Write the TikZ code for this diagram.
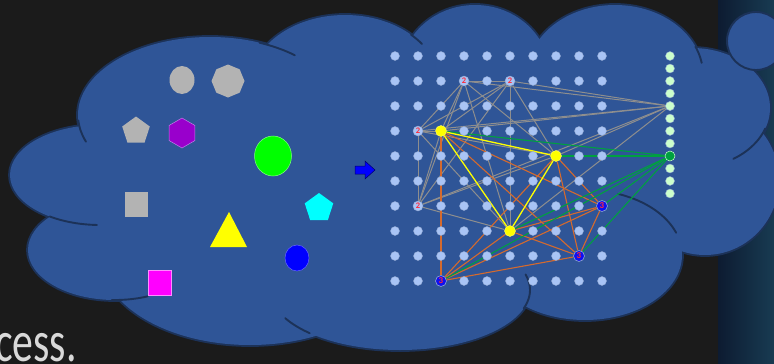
\documentclass[tikz,border=0pt]{standalone}
\usepackage{fontspec}
\setmainfont{Carlito}
\usetikzlibrary{shapes.geometric}
\definecolor{bgdark}{HTML}{1B1B1B}
\definecolor{cloudfill}{HTML}{2F5597}
\definecolor{cloudline}{HTML}{1C3258}
\definecolor{dotblue}{HTML}{A9C4F5}
\definecolor{dotrim}{HTML}{8FA6D0}
\definecolor{dotgreen}{HTML}{CCFFCC}
\definecolor{edgegray}{HTML}{8E8E8E}
\definecolor{edgeorange}{HTML}{D46A2E}
\definecolor{edgegreen}{HTML}{00A040}
\definecolor{labred}{HTML}{FF2A3A}
\definecolor{shapegray}{HTML}{B3B3B3}
\definecolor{sidedark}{HTML}{0D1B31}
\definecolor{sideteal}{HTML}{183B52}
\definecolor{textgray}{HTML}{D9D9D9}
\definecolor{nodeblue}{HTML}{1010F0}
\definecolor{arrowblue}{HTML}{0000FF}
\definecolor{pyellow}{HTML}{FFFF00}
\definecolor{pgreen}{HTML}{00FF00}
\definecolor{pcyan}{HTML}{00FFFF}
\definecolor{pmagenta}{HTML}{FF00FF}
\definecolor{ppurple}{HTML}{9900CC}
\definecolor{ppurplerim}{HTML}{C080E8}
\pgfdeclarelayer{bg}\pgfdeclarelayer{edges}
\pgfsetlayers{bg,edges,main}
\begin{document}
\begin{tikzpicture}[x=1pt,y=-1pt,
  cloudedge/.style={draw=cloudline,line width=3.8pt},
  crease/.style={draw=cloudline,line width=1.9pt,line cap=round},
  gdot/.style={circle,fill=dotblue,draw=dotrim,line width=0.4pt,minimum size=9pt,inner sep=0pt},
  gdotg/.style={circle,fill=dotgreen,draw=dotrim,line width=0.4pt,minimum size=9pt,inner sep=0pt},
  twonode/.style={circle,fill=dotblue,draw=dotrim,line width=0.4pt,minimum size=10pt,inner sep=0pt,text=labred,font=\fontsize{8.5}{8.5}\selectfont\bfseries},
  ynode/.style={circle,fill=pyellow,draw=pyellow!60!white,line width=0.4pt,minimum size=11pt,inner sep=0pt},
  pnode/.style={circle,fill=nodeblue,draw=dotrim,line width=0.6pt,minimum size=11pt,inner sep=0pt,text=labred,font=\fontsize{9}{9}\selectfont\bfseries},
  gnode/.style={circle,fill=edgegreen,draw=dotgreen,line width=0.5pt,minimum size=10pt,inner sep=0pt},
  eg/.style={draw=edgegray,line width=1pt},
  eo/.style={draw=edgeorange,line width=1.1pt},
  egr/.style={draw=edgegreen,line width=1.1pt},
  ey/.style={draw=pyellow,line width=1.3pt},
  shp/.style={inner sep=0pt}
]
\useasboundingbox (0,0) rectangle (774,364);
\clip (0,0) rectangle (774,364);
\begin{pgfonlayer}{bg}
\fill[bgdark] (0,0) rectangle (774,364);
\shade[left color=sidedark,right color=sideteal] (718,0) rectangle (774,364);
% cloud outline (outer halves survive the fill)
\foreach \cx/\cy/\rx/\ry in {100/175/90/50,115/250/87/50,210/115/132/78,345/85/95/70,475/75/75/70,615/75/88/70,692/108/78/60,705/180/74/75,585/255/97/65,400/290/130/60,250/255/150/90}
  \path[cloudedge] (\cx,\cy) ellipse [x radius=\rx,y radius=\ry];
\fill[cloudfill] (100,175) -- (210,115) -- (345,85) -- (475,75) -- (615,75) -- (692,108) -- (705,180) -- (585,255) -- (400,290) -- (250,255) -- (115,250) -- cycle;
\foreach \cx/\cy/\rx/\ry in {100/175/90/50,115/250/87/50,210/115/132/78,345/85/95/70,475/75/75/70,615/75/88/70,692/108/78/60,705/180/74/75,585/255/97/65,400/290/130/60,250/255/150/90}
  \fill[cloudfill] (\cx,\cy) ellipse [x radius=\rx,y radius=\ry];
% creases
\draw[crease] plot[domain=160:176,samples=12,variable=\t] ({210+132*cos(\t)},{115+78*sin(\t)});
\draw[crease] plot[domain=92:124,samples=16,variable=\t] ({100+90*cos(\t)},{175+50*sin(\t)});
\draw[crease] plot[domain=68:92,samples=12,variable=\t] ({115+87*cos(\t)},{250+50*sin(\t)});
\draw[crease] plot[domain=-68:-50,samples=12,variable=\t] ({210+132*cos(\t)},{115+78*sin(\t)});
\draw[crease] plot[domain=134:152,samples=12,variable=\t] ({400+130*cos(\t)},{290+60*sin(\t)});
\draw[crease] plot[domain=-15:18,samples=12,variable=\t] ({400+130*cos(\t)},{290+60*sin(\t)});
\draw[crease] plot[domain=-46:-36,samples=8,variable=\t] ({345+95*cos(\t)},{85+70*sin(\t)});
\draw[crease] plot[domain=-24:-10,samples=8,variable=\t] ({615+88*cos(\t)},{75+70*sin(\t)});
\draw[crease] plot[domain=20:58,samples=14,variable=\t] ({692+78*cos(\t)},{108+60*sin(\t)});
\draw[crease] plot[domain=-70:-20,samples=20,variable=\t] ({585+97*cos(\t)},{255+65*sin(\t)});
% small thought bubble
\draw[fill=cloudfill,draw=cloudline,line width=1.9pt] (756,41) circle [radius=29];
\end{pgfonlayer}

% left shapes
\node[shp,ellipse,fill=shapegray,minimum width=25pt,minimum height=28pt] (s1) at (182,80) {};
\node[shp,regular polygon,regular polygon sides=8,shape border rotate=22.5,fill=shapegray,minimum size=33pt] (s2) at (228,81) {};
\node[shp,regular polygon,regular polygon sides=5,fill=shapegray,minimum size=29pt] (s3) at (136,131) {};
\node[shp,regular polygon,regular polygon sides=6,shape border rotate=30,fill=ppurple,draw=ppurplerim,line width=0.5pt,minimum size=30pt] (s4) at (182,133) {};
\node[shp,ellipse,fill=pgreen,draw=pgreen!50!white,line width=0.5pt,minimum width=37pt,minimum height=40pt] (s5) at (273,156) {};
\node[shp,rectangle,fill=shapegray,minimum width=23pt,minimum height=25pt] (s6) at (136.5,204) {};
\fill[pyellow] (229,212) -- (247,247) -- (210,247) -- cycle;
\node[shp,regular polygon,regular polygon sides=5,fill=pcyan,minimum size=30pt] (s7) at (319,208) {};
\node[shp,ellipse,fill=arrowblue,draw=arrowblue!60!white,line width=0.5pt,minimum width=24pt,minimum height=26pt] (s8) at (297,258) {};
\node[shp,rectangle,fill=pmagenta,draw=pmagenta!45!white,line width=0.5pt,minimum width=23pt,minimum height=25pt] (s9) at (159.5,282.5) {};
% arrow
\filldraw[fill=arrowblue,draw=arrowblue!40!black,line width=0.5pt] (355,166) -- (365,166) -- (365,161) -- (375,170) -- (365,179) -- (365,174) -- (355,174) -- cycle;

% grid
\foreach \i in {0,...,9}
  \foreach \j in {0,...,9}
    \node[gdot] (g\i-\j) at ({395+23*\i},{56+25*\j}) {};
\foreach \k in {0,...,11}
  \node[gdotg] (r\k) at (670,{56+12.5*\k}) {};

% special nodes
\node[twonode] (A2) at (g3-1) {2};
\node[twonode] (B2) at (g5-1) {2};
\node[twonode] (C2) at (g1-3) {2};
\node[twonode] (D2) at (g1-6) {2};
\node[ynode] (Y1) at (g2-3) {};
\node[ynode] (Y2) at (g7-4) {};
\node[ynode] (Y3) at (g5-7) {};
\node[pnode] (P1) at (g9-6) {3};
\node[pnode] (P2) at (g8-8) {3};
\node[pnode] (P3) at (g2-9) {3};
\node[gdotg] (W) at (r4) {};
\node[gnode] (G) at (r8) {};

\begin{pgfonlayer}{edges}
\foreach \a/\b in {A2/B2,A2/C2,A2/D2,A2/W,B2/C2,B2/D2,B2/W,C2/D2,C2/W,D2/W,
  A2/Y1,A2/Y2,A2/Y3,B2/Y1,B2/Y2,B2/Y3,C2/Y1,C2/Y2,C2/Y3,D2/Y1,D2/Y2,D2/Y3,W/Y1,W/Y2,W/Y3}
  \draw[eg] (\a) -- (\b);
\foreach \a/\b in {P1/P2,P1/P3,P2/P3,Y1/P1,Y1/P2,Y1/P3,Y2/P1,Y2/P2,Y2/P3,Y3/P1,Y3/P2,Y3/P3}
  \draw[eo] (\a) -- (\b);
\foreach \a in {Y1,Y2,Y3,P1,P2,P3}
  \draw[egr] (\a) -- (G);
\draw[ey] (Y1) -- (Y2);
\draw[ey] (Y2) -- (Y3);
\draw[ey] (Y1) -- (Y3);
\end{pgfonlayer}

% cut-off caption text (cut at the left edge, as in the reference)
\node[anchor=base west,inner sep=0pt,text=textgray,font=\fontsize{58}{58}\selectfont] (txt) at (-5,361) {\scalebox{0.72}[1]{cess.}};
\end{tikzpicture}
\end{document}
